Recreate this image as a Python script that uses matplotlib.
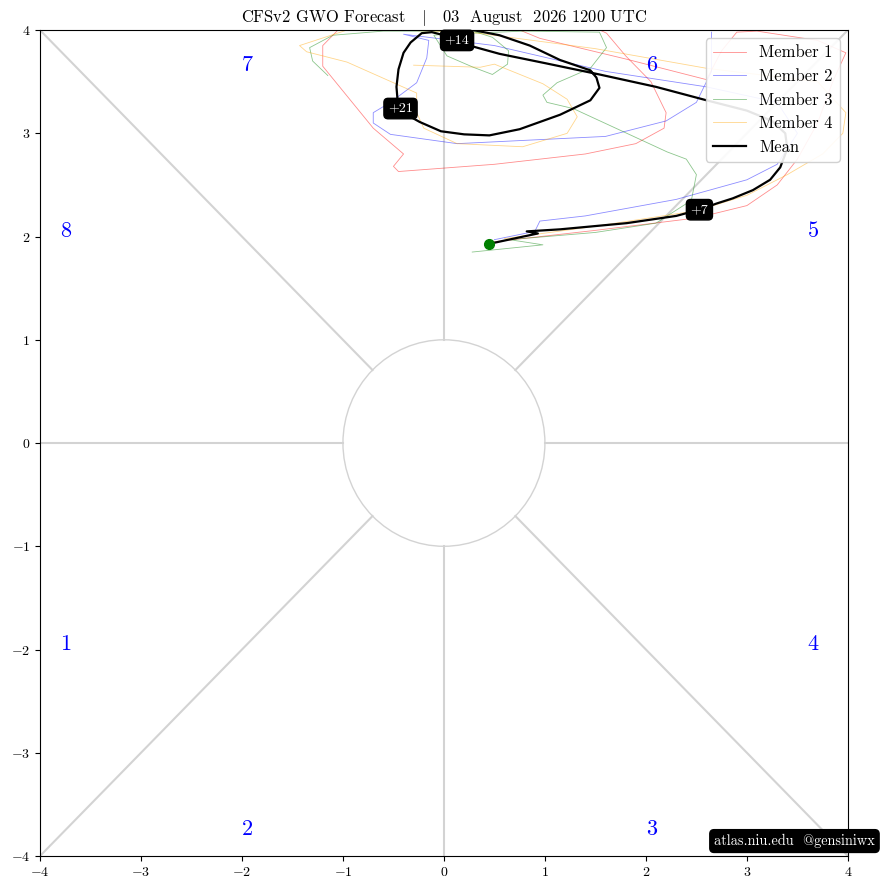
import numpy as np
import matplotlib.pyplot as plt
from matplotlib.patches import Circle

plt.rcParams['font.family'] = ['cmr10', 'DejaVu Serif']
plt.rcParams['mathtext.fontset'] = 'cm'
plt.rcParams['axes.formatter.use_mathtext'] = True

# ensemble members (GWO phase space)
m1_x = [0.5, 1.5, 2.5, 3.0, 3.3, 3.5, 3.7, 3.85, 3.98, 3.7, 3.1, 2.9, 2.75, 2.6, 1.8, 0.95, 0.75,
        0.9, 1.5, 1.61, 1.8, 2.05, 2.2, 2.18, 1.9, 1.4, 0.5, -0.45, -0.5, -0.4, -0.7, -0.95, -1.2, -1.2, -1.05]
m1_y = [1.95, 2.06, 2.18, 2.3, 2.5, 2.75, 3.1, 3.5, 3.78, 3.9, 3.99, 3.98, 3.8, 3.52, 3.72, 3.92, 4.0,
        4.05, 4.02, 3.97, 3.75, 3.5, 3.2, 3.05, 2.9, 2.8, 2.7, 2.63, 2.68, 2.8, 3.05, 3.35, 3.65, 3.85, 4.0]

m2_x = [0.5, 0.9, 0.95, 1.4, 2.3, 3.0, 3.3, 3.5, 3.3, 2.6, 1.6, 0.5, -0.4, -0.15, -0.17, -0.27,
        -0.53, -0.7, -0.7, -0.53, 0.13, 1.6, 2.2, 2.5, 2.65, 2.65]
m2_y = [1.97, 2.05, 2.15, 2.2, 2.36, 2.55, 2.7, 3.0, 3.3, 3.45, 3.6, 3.85, 3.96, 3.9, 3.73, 3.49,
        3.3, 3.2, 3.1, 2.99, 2.9, 2.97, 3.12, 3.3, 3.6, 3.98]

m3_x = [0.28, 0.98, 0.65, 1.5, 2.1, 2.45, 2.5, 2.4, 2.21, 1.28, 1.02, 0.98, 1.12, 1.45, 1.61, 1.54,
        0.8, 0.0, -0.1, 0.03, 0.29, 0.48, 0.63, 0.64, 0.48, 0.29, -0.6, -1.1, -1.33, -1.3, -1.15]
m3_y = [1.85, 1.92, 1.97, 2.04, 2.13, 2.35, 2.6, 2.75, 2.82, 3.24, 3.3, 3.37, 3.49, 3.63, 3.83, 3.98,
        3.99, 3.96, 3.95, 3.75, 3.64, 3.57, 3.67, 3.8, 3.93, 3.99, 3.99, 3.95, 3.83, 3.7, 3.56]

m4_x = [0.6, 1.5, 2.5, 3.0, 3.4, 3.75, 3.95, 3.98, 3.7, 2.6, 1.5, 0.26, -0.5, -0.96, -1.43, -1.36,
        -0.96, -0.27, -0.27, -0.2, 0.13, 0.78, 1.22, 1.32, 1.22, 0.98, 0.5, 0.36, -0.3]
m4_y = [1.98, 2.1, 2.25, 2.4, 2.6, 2.8, 3.0, 3.2, 3.5, 3.63, 3.82, 3.98, 4.0, 4.0, 3.85, 3.79,
        3.69, 3.39, 3.2, 3.05, 2.9, 2.87, 3.0, 3.16, 3.33, 3.48, 3.67, 3.64, 3.66]

# ensemble mean
mean_x = [0.45, 0.93, 0.82, 1.15, 1.81, 2.3, 2.53, 2.7, 2.86, 3.06, 3.23, 3.33, 3.4, 3.38, 3.25,
          3.0, 2.6, 2.1, 1.54, 1.0, 0.55, 0.29, 0.13, 0.0, -0.12, -0.22, -0.33, -0.4, -0.45,
          -0.47, -0.46, -0.43, -0.35, -0.24, -0.03, 0.2, 0.45, 0.75, 1.15, 1.45, 1.54, 1.51,
          1.45, 1.15, 0.85, 0.55, 0.29, 0.2]
mean_y = [1.93, 2.03, 2.05, 2.07, 2.13, 2.2, 2.26, 2.32, 2.37, 2.45, 2.55, 2.67, 2.85, 3.0, 3.12,
          3.22, 3.32, 3.45, 3.57, 3.68, 3.77, 3.84, 3.9, 3.95, 3.98, 3.97, 3.88, 3.78, 3.62,
          3.45, 3.33, 3.24, 3.17, 3.11, 3.02, 2.99, 2.98, 3.04, 3.18, 3.32, 3.44, 3.54,
          3.61, 3.71, 3.85, 3.95, 4.0, 4.0]
day_labels = ['+7', '+14', '+21']
day_idx = [6, 22, 31]

phase_names = ['1', '2', '3', '4', '5', '6', '7', '8']
phase_x = [-3.8, -2.0, 2.0, 3.6, 3.6, 2.0, -2.0, -3.8]
phase_y = [-2.0, -3.8, -3.8, -2.0, 2.0, 3.6, 3.6, 2.0]

fig = plt.figure(figsize=(8.81, 8.9), dpi=100)
ax = fig.add_axes([0.0454, 0.0382, 0.917, 0.928])

# phase space background
lc = 'lightgray'
ax.plot([-4, -1], [0, 0], color=lc, lw=1.5, zorder=1)
ax.plot([1, 4], [0, 0], color=lc, lw=1.5, zorder=1)
ax.plot([0, 0], [-4, -1], color=lc, lw=1.5, zorder=1)
ax.plot([0, 0], [1, 4], color=lc, lw=1.5, zorder=1)
d = np.sqrt(2) / 2
ax.plot([-4, -d], [-4, -d], color=lc, lw=1.5, zorder=1)
ax.plot([d, 4], [d, 4], color=lc, lw=1.5, zorder=1)
ax.plot([-4, -d], [4, d], color=lc, lw=1.5, zorder=1)
ax.plot([d, 4], [-d, -4], color=lc, lw=1.5, zorder=1)
ax.add_patch(Circle((0, 0), 1, fill=False, ec=lc, lw=1, zorder=1))

for name, px, py in zip(phase_names, phase_x, phase_y):
    ax.text(px, py, name, color='blue', fontsize=16)

ax.plot(m1_x, m1_y, color='red', lw=0.6, alpha=0.45, label='Member 1')
ax.plot(m2_x, m2_y, color='blue', lw=0.6, alpha=0.45, label='Member 2')
ax.plot(m3_x, m3_y, color='green', lw=0.6, alpha=0.45, label='Member 3')
ax.plot(m4_x, m4_y, color='orange', lw=0.6, alpha=0.45, label='Member 4')
ax.plot(mean_x, mean_y, color='black', lw=1.6, label='Mean', zorder=4)
ax.plot(mean_x[0], mean_y[0], 'o', color='green', ms=7, zorder=5)

for lab, i in zip(day_labels, day_idx):
    ax.text(mean_x[i], mean_y[i], lab, color='white', fontsize=10, ha='center', va='center',
            zorder=6, clip_on=False,
            bbox=dict(boxstyle='round,pad=0.3', fc='black', ec='black'))

ax.set_xlim(-4, 4)
ax.set_ylim(-4, 4)
ax.set_xticks(range(-4, 5))
ax.set_yticks(range(-4, 5))
ax.tick_params(labelsize=10)
ax.set_title('CFSv2 GWO Forecast   $|$   03  August  2026 1200 UTC', fontsize=11.9, pad=6)
ax.legend(loc='upper right', fontsize=12, framealpha=0.9)

fig.text(0.993, 0.055, 'atlas.niu.edu  @gensiniwx', color='white', fontsize=10.3, ha='right', va='center',
         bbox=dict(boxstyle='round,pad=0.3', fc='black', ec='black'))

plt.savefig('out.png')
